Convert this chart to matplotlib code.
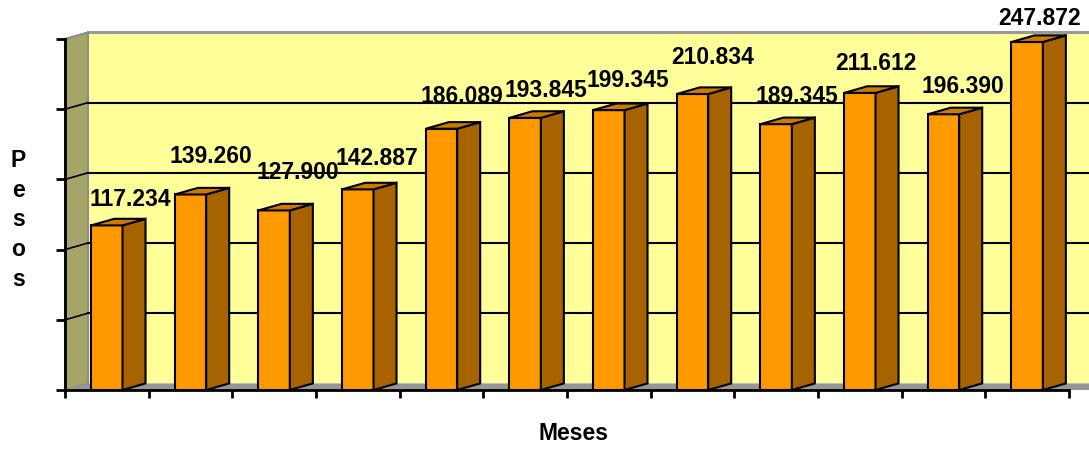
import matplotlib
matplotlib.use("Agg")
from matplotlib import pyplot as plt

# Ventas por mes (en pesos)
meses = ["Ene", "Feb", "Mar", "Abr", "May", "Jun", "Jul", "Ago", "Sep", "Oct", "Nov", "Dic"]
pesos = [117.234, 139.260, 127.900, 142.887, 186.089, 193.845,
         199.345, 210.834, 189.345, 211.612, 196.390, 247.872]

# desplazamiento de cada etiqueta respecto del frente de la barra (pixeles)
etiqueta_dx = [23, 20, 24, 19, 20, 21, 19, 20, 21, 16, 19, 12]
etiqueta_dy = [19, 31, 31, 24, 26, 21, 23, 30, 21, 23, 21, 17]

plt.rcParams["font.family"] = ["Liberation Sans", "DejaVu Sans"]

ANCHO = 0.375      # ancho del frente de cada barra
DX = 0.275         # profundidad en x (unidades de categoria)
DY = 4.7           # profundidad en y (unidades de valor)
Y_MAX = 250
LETRA = 16.5

fig = plt.figure(figsize=(10.89, 4.51), dpi=100)
ax = fig.add_axes([65 / 1089, 61 / 451, 1004 / 1089, 351 / 451])
ax.set_xlim(0, len(meses))
ax.set_ylim(0, Y_MAX)
ax.patch.set_visible(False)

n = len(meses)

# pared lateral, pared de fondo y piso
ax.fill([0, DX, DX, 0], [0, DY, Y_MAX + DY, Y_MAX], color="#A5A56A",
        ec="#8C8C8C", lw=1.2, clip_on=False, zorder=0)
ax.fill([DX, n + DX + 0.5, n + DX + 0.5, DX], [DY, DY, Y_MAX + DY, Y_MAX + DY],
        color="#FFFF99", ec="none", clip_on=False, zorder=0)
ax.plot([DX, n + DX + 0.5], [Y_MAX + DY, Y_MAX + DY], color="#999999", lw=2.2,
        clip_on=False, zorder=0.5)
ax.plot([0, DX, DX], [Y_MAX, Y_MAX + DY, DY], color="#8C8C8C", lw=1.4,
        clip_on=False, zorder=0.5)
ax.fill([0, n + 0.5, n + DX + 0.5, DX], [0, 0, DY, DY], color="#969696",
        ec="none", clip_on=False, zorder=0.2)

# lineas de division sobre el fondo y la pared lateral
for v in range(50, Y_MAX, 50):
    ax.plot([DX, n + DX + 0.5], [v + DY, v + DY], color="black", lw=1.5,
            clip_on=False, zorder=0.6)
    ax.plot([0, DX], [v, v + DY], color="black", lw=1.2, clip_on=False, zorder=0.6)

# barras 3D: frente, costado y tapa
for i, valor in enumerate(pesos):
    x0 = i + 0.5 - ANCHO / 2
    x1 = x0 + ANCHO
    ax.fill([x0, x1, x1, x0], [0, 0, valor, valor], color="#FF9900",
            ec="black", lw=1.5, clip_on=False, zorder=3)
    ax.fill([x1, x1 + DX, x1 + DX, x1], [0, DY, valor + DY, valor],
            color="#A66300", ec="black", lw=1.5, clip_on=False, zorder=3)
    ax.fill([x0, x1, x1 + DX, x0 + DX], [valor, valor, valor + DY, valor + DY],
            color="#CC7A00", ec="black", lw=1.5, clip_on=False, zorder=3)
    ax.annotate(f"{valor:.3f}", xy=(i + 0.5, valor),
                xytext=(etiqueta_dx[i], etiqueta_dy[i]), textcoords="offset pixels",
                ha="center", va="baseline", fontsize=LETRA, fontweight="bold",
                annotation_clip=False, zorder=5)

# ejes
for lado in ["top", "right"]:
    ax.spines[lado].set_visible(False)
for lado in ["left", "bottom"]:
    ax.spines[lado].set_linewidth(2)
    ax.spines[lado].set_zorder(4)
ax.set_xticks(range(n + 1))
ax.set_yticks(range(0, Y_MAX + 1, 50))
ax.set_xticklabels([])
ax.set_yticklabels([])
ax.tick_params(axis="x", direction="out", length=6, width=2)
ax.tick_params(axis="y", direction="out", length=6.5, width=2)

fig.text(573 / 1089, 1 - 434 / 451, "Meses", ha="center", va="center",
         fontsize=LETRA, fontweight="bold")
fig.text(18.5 / 1089, 1 - 220 / 451, "P\ne\ns\no\ns", ha="center", va="center",
         fontsize=LETRA, fontweight="bold", linespacing=1.38)

fig.savefig("out.png", dpi=100)
